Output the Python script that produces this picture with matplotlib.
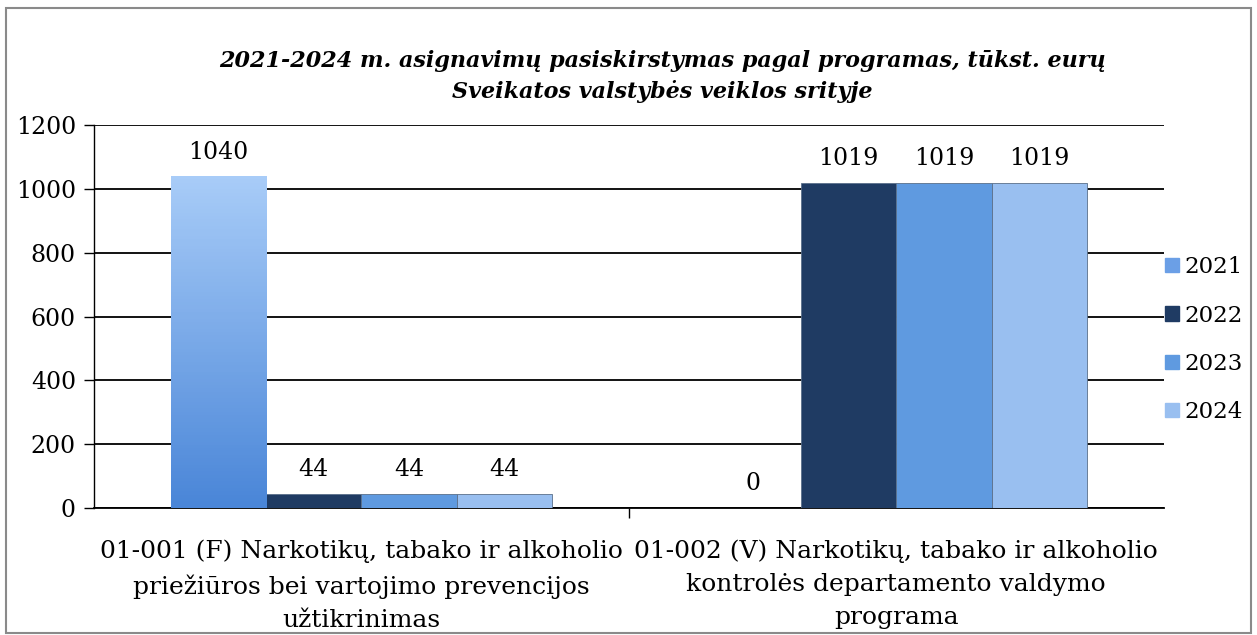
import matplotlib
matplotlib.use('Agg')
import matplotlib.pyplot as plt
import numpy as np
from matplotlib.patches import Rectangle

plt.rcParams['font.family'] = ['DejaVu Serif']

categories = ['01-001 (F) Narkotikų, tabako ir alkoholio\npriežiūros bei vartojimo prevencijos\nužtikrinimas',
              '01-002 (V) Narkotikų, tabako ir alkoholio\nkontrolės departamento valdymo\nprograma']
years = ['2021', '2022', '2023', '2024']
v2021 = [1040, 0]
v2022 = [44, 1019]
v2023 = [44, 1019]
v2024 = [44, 1019]
series = [v2021, v2022, v2023, v2024]
colors = ['#6b9fe6', '#1f3b63', '#5f9ae0', '#99bff0']

fs = 17

fig = plt.figure(figsize=(12.57, 6.35), dpi=100)
fig.patches.append(Rectangle((0.005, 0.003), 0.99, 0.985, transform=fig.transFigure,
                             fill=False, edgecolor='#8a8a8a', linewidth=1.5))
ax = fig.add_axes([0.0748, 0.2, 0.851, 0.603])

x = np.arange(len(categories))
w = 0.178
for i, vals in enumerate(series):
    pos = x + (i - 1.5) * w
    bars = ax.bar(pos, vals, w, color=colors[i], edgecolor='#5a6f8a', linewidth=0.6, zorder=3)
    for b, v in zip(bars, vals):
        ax.annotate(str(v), (b.get_x() + b.get_width() / 2, v), xytext=(0, 9),
                    textcoords='offset points', ha='center', va='bottom', fontsize=fs)
        if i == 0 and v > 0:
            grad = np.linspace(0, 1, 100).reshape(-1, 1)
            cmap = matplotlib.colors.LinearSegmentedColormap.from_list('g', ['#4a86d8', '#a8ccf8'])
            im = ax.imshow(grad, extent=[b.get_x(), b.get_x() + b.get_width(), 0, v],
                           origin='lower', aspect='auto', cmap=cmap, zorder=3.5)
            im.set_clip_path(b)

ax.set_xlim(-0.5, 1.5)
ax.set_ylim(0, 1200)
ax.set_yticks(range(0, 1201, 200))
ax.yaxis.grid(True, color='black', linewidth=1.3)
ax.set_axisbelow(True)
for s in ['top', 'right']:
    ax.spines[s].set_visible(False)
ax.spines['left'].set_linewidth(1.0)
ax.spines['bottom'].set_linewidth(1.3)
ax.set_xticks([0.5])
ax.set_xticklabels([''])
ax.tick_params(axis='x', length=7, width=1, direction='out')
ax.tick_params(axis='y', length=7, width=1, labelsize=fs, pad=6)
for xi, c in zip(x, categories):
    ax.text(xi, -0.082, c, transform=ax.get_xaxis_transform(), ha='center', va='top',
            fontsize=18, linespacing=1.57)

handles = [Rectangle((0, 0), 1, 1, color=c) for c in colors]
fig.legend(handles, years, loc='center left', bbox_to_anchor=(0.916, 0.465), frameon=False,
           fontsize=16.5, handlelength=0.6, handleheight=0.6, handletextpad=0.25,
           labelspacing=1.15, borderaxespad=0.2)

fig.text(0.527, 0.880, '2021-2024 m. asignavimų pasiskirstymas pagal programas, tūkst. eurų\n'
         'Sveikatos valstybės veiklos srityje', ha='center', va='center',
         fontsize=16, fontweight='bold', style='italic', linespacing=1.45)

fig.savefig('out.png', dpi=100)
